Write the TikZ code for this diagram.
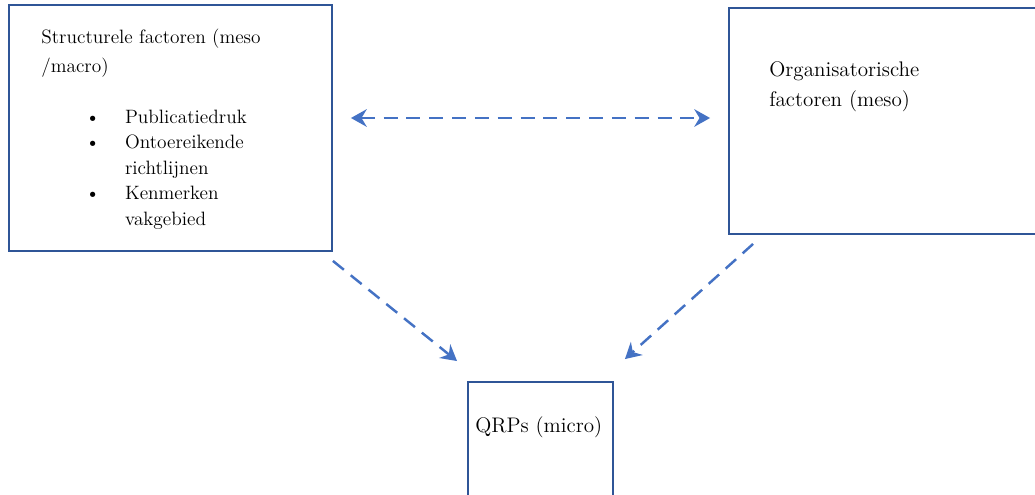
\documentclass[tikz,border=0pt]{standalone}
\usepackage{xcolor}
\usepackage{tikz}
\usetikzlibrary{arrows.meta,positioning,calc}
\definecolor{boxblue}{HTML}{2F5597}
\definecolor{arrowblue}{HTML}{4472C4}

\begin{document}
\begin{tikzpicture}[
    x=0.02cm, y=-0.02cm,
    box/.style={rectangle, draw=boxblue, line width=1.1pt, inner sep=0pt},
    txt/.style={align=left, inner sep=0pt, anchor=base west, font=\fontsize{11}{16.2}\selectfont},
    bigtxt/.style={txt, font=\fontsize{12}{17}\selectfont},
    arrow/.style={line width=1.4pt, draw=arrowblue, dash pattern=on 8pt off 5pt,
        -{Stealth[length=9pt, width=10pt, inset=3pt, fill=arrowblue]}},
    twoway/.style={arrow, {Stealth[length=9pt, width=10pt, inset=3pt, fill=arrowblue]}-{Stealth[length=9pt, width=10pt, inset=3pt, fill=arrowblue]}}
]
    \useasboundingbox (0,0) rectangle (1035,494);

    \node[box, minimum width=6.46cm, minimum height=4.92cm] (struct) at (170.5,128) {};
    \node[box, minimum width=6.32cm, minimum height=4.52cm] (org) at (887,121) {};
    \node[box, minimum width=2.9cm, minimum height=2.6cm] (qrp) at (540.5,447) {};

    \node[txt] (structtitle) at (41,72) {Structurele factoren (meso\\/macro)};
    \node[txt, font=\fontsize{11}{14.6}\selectfont] (structlist) at (85,123) {%
        \begin{tabular}[t]{@{}l@{\hspace{0.5cm}}l@{}}
        \textbullet & Publicatiedruk\\
        \textbullet & Ontoereikende\\
                    & richtlijnen\\
        \textbullet & Kenmerken\\
                    & vakgebied
        \end{tabular}};
    \node[bigtxt] (orgtext) at (769,106) {Organisatorische\\factoren (meso)};
    \node[bigtxt] (qrptext) at (475,432) {QRPs (micro)};

    \draw[twoway, shorten <=18*0.02cm, shorten >=18*0.02cm] (struct.east |- 0,118) -- (org.west |- 0,118);
    \draw[arrow] ($(struct.south east)+(0,9)$) -- ($(qrp.north west)+(-10,-20)$);
    \draw[arrow] ($(org.south west)+(25,9)$) -- ($(qrp.north east)+(11,-22)$);
\end{tikzpicture}
\end{document}
